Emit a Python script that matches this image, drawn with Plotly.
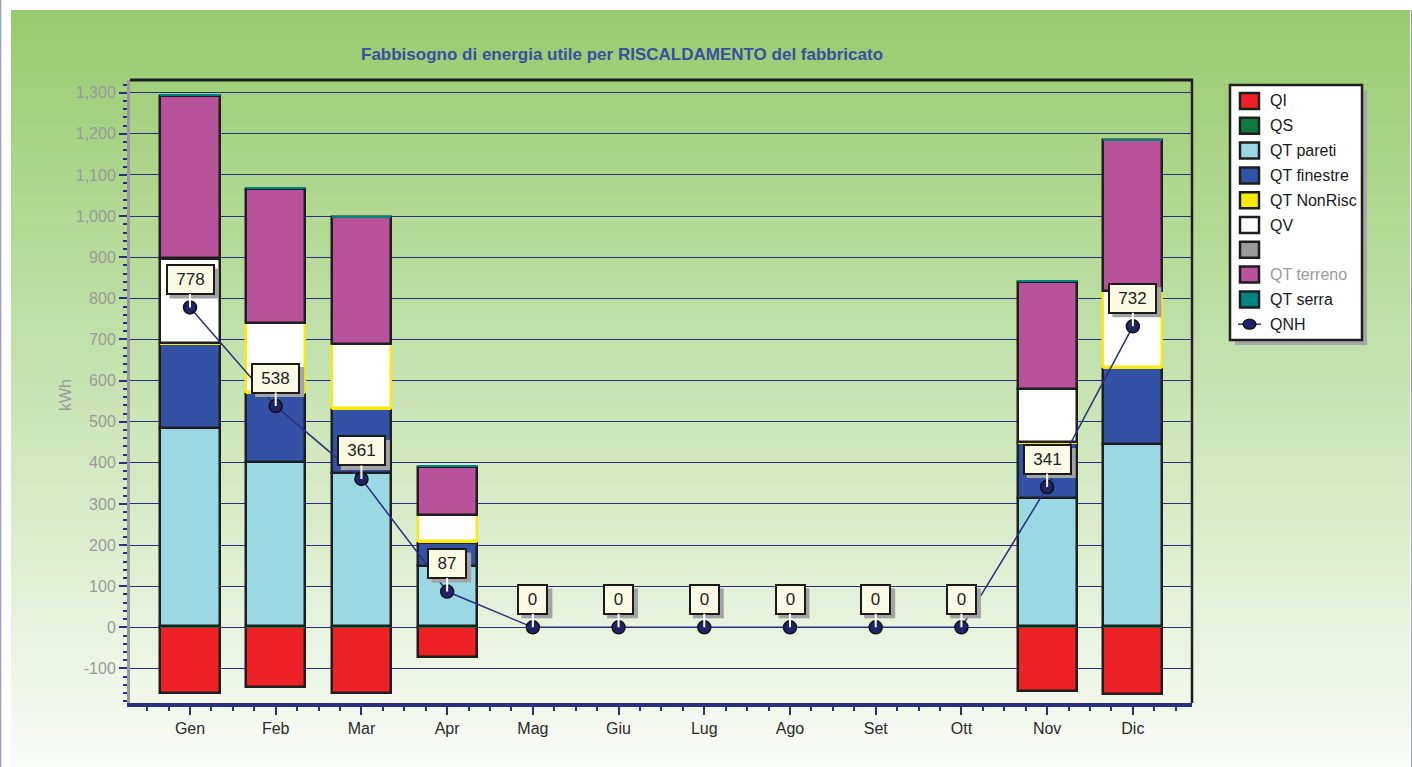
import plotly.graph_objects as go

# ---- data (kWh per month) ----
months = ["Gen", "Feb", "Mar", "Apr", "Mag", "Giu", "Lug", "Ago", "Set", "Ott", "Nov", "Dic"]
qi = [-160, -145, -160, -73, 0, 0, 0, 0, 0, 0, -155, -162]
qs = [4, 4, 4, 3, 0, 0, 0, 0, 0, 0, 4, 4]
qt_pareti = [480, 398, 371, 147, 0, 0, 0, 0, 0, 0, 311, 441]
qt_finestre = [204, 167, 155, 56, 0, 0, 0, 0, 0, 0, 133, 185]
qt_nonrisc = [4, 3, 3, 3, 0, 0, 0, 0, 0, 0, 3, 4]
qv = [204, 169, 155, 64, 0, 0, 0, 0, 0, 0, 128, 184]
q_grey = [2, 0, 0, 0, 0, 0, 0, 0, 0, 0, 0, 0]
qt_terreno = [393, 324, 309, 118, 0, 0, 0, 0, 0, 0, 261, 366]
qt_serra = [5, 5, 4, 3, 0, 0, 0, 0, 0, 0, 4, 4]
qnh = [778, 538, 361, 87, 0, 0, 0, 0, 0, 0, 341, 732]

y_ticks = list(range(-100, 1301, 100))
y_labels = [f"{v:,}" for v in y_ticks]

W, H = 1412, 767
ML, MR, MT, MB = 130, 220, 80, 64
PW, PH = W - ML - MR, H - MT - MB


def px(x):
    return (x - ML) / PW


def py(y):
    return (H - MB - y) / PH


FONT = "Liberation Sans, Arial, sans-serif"
NAVY = "#2B2F80"
EDGE = "#1E1E1E"
YEL = "#F6EC0C"

xs = list(range(len(months)))
fig = go.Figure()

stack = [
    ("QI", qi, "#EE2226", 2.5, EDGE),
    ("QS", qs, "#0E7A3E", 0, EDGE),
    ("QT pareti", qt_pareti, "#9AD8E4", 2.5, EDGE),
    ("QT finestre", qt_finestre, "#3352A5", 2.5, EDGE),
    ("QT NonRisc", qt_nonrisc, YEL, 0, EDGE),
    ("QV", qv, "#FFFFFF", 2.5,
     [EDGE, YEL, YEL, YEL, EDGE, EDGE, EDGE, EDGE, EDGE, EDGE, EDGE, YEL]),
    (" ", q_grey, "#9B9B9B", 0, EDGE),
    ("QT terreno", qt_terreno, "#B8539B", 2.5, EDGE),
    ("QT serra", qt_serra, "#008482", 0, EDGE),
]
for name, vals, color, lw, lc in stack:
    # empty months get no outline so nothing is drawn on the zero line
    widths = [lw if v != 0 else 0 for v in vals]
    fig.add_trace(go.Bar(
        x=xs, y=vals, name=name, width=0.69,
        marker=dict(color=color, line=dict(width=widths, color=lc)),
        showlegend=False,
    ))

fig.add_trace(go.Scatter(
    x=xs, y=qnh, name="QNH", mode="lines+markers",
    line=dict(color=NAVY, width=1.5),
    marker=dict(size=13, color="#1F2468", line=dict(color="#111111", width=1.5)),
    showlegend=False,
))

annotations = []
shapes = []

# background panel with vertical gradient
top_c = (151, 203, 110)
bot_c = (250, 252, 248)
y0p, y1p = 10, 767
nb = 80
for k in range(nb):
    ya = y0p + (y1p - y0p) * k / nb
    yb = y0p + (y1p - y0p) * (k + 1) / nb + 0.6
    t = (k + 0.5) / nb
    c = tuple(round(top_c[j] + (bot_c[j] - top_c[j]) * t) for j in range(3))
    shapes.append(dict(type="rect", xref="paper", yref="paper",
                       x0=px(11), x1=px(1410), y0=py(ya), y1=py(yb),
                       fillcolor="rgb(%d,%d,%d)" % c, line=dict(width=0), layer="below"))
shapes.append(dict(type="line", xref="paper", yref="paper", x0=px(0.5), x1=px(0.5),
                   y0=py(0), y1=py(767), line=dict(color="#9A9ACC", width=1.5), layer="below"))
shapes.append(dict(type="line", xref="paper", yref="paper", x0=px(1411.5), x1=px(1411.5),
                   y0=py(10), y1=py(767), line=dict(color="#9A9ACC", width=1), layer="below"))

# QNH value labels: grey drop shadow, then boxed label with a white stem
LABEL_UP = 28
for i, v in enumerate(qnh):
    txt = str(v)
    w = 10 + 9 * len(txt)
    hw = (w + 12) / 2
    hh = 15
    shapes.append(dict(type="rect", xref="x", yref="y", xsizemode="pixel", ysizemode="pixel",
                       xanchor=i, yanchor=v,
                       x0=-hw + 4, x1=hw + 4, y0=LABEL_UP - hh - 4, y1=LABEL_UP + hh - 4,
                       fillcolor="#A3A3A3", line=dict(width=0)))
    annotations.append(dict(
        x=i, y=v, xref="x", yref="y", text=txt, showarrow=True,
        arrowcolor="#FFFFFF", arrowwidth=2, arrowhead=0, ax=0, ay=-LABEL_UP, standoff=0,
        bgcolor="#FBFAE4", bordercolor="#1A1A1A", borderwidth=2, borderpad=4,
        width=w, font=dict(family=FONT, size=17, color="#222222"),
    ))

# title and axis title
annotations.append(dict(
    x=px(622), y=py(55), xref="paper", yref="paper", showarrow=False,
    text="<b>Fabbisogno di energia utile per RISCALDAMENTO del fabbricato</b>",
    font=dict(family=FONT, size=17, color="#3A4FA0"), xanchor="center", yanchor="middle",
))
annotations.append(dict(
    x=px(65), y=py(395), xref="paper", yref="paper", showarrow=False, text="kWh",
    textangle=-90, font=dict(family=FONT, size=16, color="#9A9A9A"),
    xanchor="center", yanchor="middle",
))

# frame: top and right borders of the plot area
shapes.append(dict(type="line", xref="paper", yref="paper", x0=0, x1=1.001, y0=1, y1=1,
                   line=dict(color=EDGE, width=3)))
shapes.append(dict(type="line", xref="paper", yref="paper", x0=1, x1=1, y0=0, y1=1,
                   line=dict(color=EDGE, width=2.5)))

# legend box
lx0, lx1, ly0, ly1 = 1230, 1362, 85, 340
shapes.append(dict(type="rect", xref="paper", yref="paper",
                   x0=px(lx0 + 5), x1=px(lx1 + 5), y0=py(ly0 + 5), y1=py(ly1 + 5),
                   fillcolor="#A8A8A8", line=dict(width=0)))
shapes.append(dict(type="rect", xref="paper", yref="paper",
                   x0=px(lx0), x1=px(lx1), y0=py(ly0), y1=py(ly1),
                   fillcolor="#FFFFFF", line=dict(color=EDGE, width=2.5)))

legend_items = [(n, c) for n, _, c, _, _ in stack]
legend_items[6] = ("", "#9B9B9B")
for k, (name, color) in enumerate(legend_items):
    cy = 101 + 24.8 * k
    shapes.append(dict(type="rect", xref="paper", yref="paper",
                       x0=px(1240), x1=px(1259), y0=py(cy - 8), y1=py(cy + 8),
                       fillcolor=color, line=dict(color=EDGE, width=2.5)))
    if name:
        col = "#9C9C9C" if name == "QT terreno" else "#1A1A1A"
        annotations.append(dict(x=px(1268), y=py(cy), xref="paper", yref="paper",
                                showarrow=False, text=name, xanchor="left", yanchor="middle",
                                font=dict(family=FONT, size=16, color=col)))
cy = 101 + 24.8 * 9
shapes.append(dict(type="line", xref="paper", yref="paper", x0=px(1238), x1=px(1261),
                   y0=py(cy), y1=py(cy), line=dict(color=NAVY, width=1.5)))
shapes.append(dict(type="circle", xref="paper", yref="paper", x0=px(1243), x1=px(1256),
                   y0=py(cy - 5), y1=py(cy + 5), fillcolor="#1F2468",
                   line=dict(color="#111111", width=1.2)))
annotations.append(dict(x=px(1268), y=py(cy), xref="paper", yref="paper",
                        showarrow=False, text="QNH", xanchor="left", yanchor="middle",
                        font=dict(family=FONT, size=16, color="#1A1A1A")))

fig.update_layout(
    width=W, height=H,
    margin=dict(l=ML, r=MR, t=MT, b=MB, pad=0),
    barmode="relative", bargap=0,
    paper_bgcolor="#FFFFFF", plot_bgcolor="rgba(0,0,0,0)",
    showlegend=False,
    font=dict(family=FONT),
    annotations=annotations, shapes=shapes,
    xaxis=dict(
        range=[-0.70, 11.69], tickvals=xs, ticktext=months,
        showgrid=False, zeroline=False,
        showline=True, linecolor=NAVY, linewidth=3.5,
        ticks="outside", ticklen=8, tickwidth=1.5, tickcolor=NAVY,
        tickfont=dict(family=FONT, size=16, color="#2A2A2A"),
        minor=dict(dtick=0.25, tick0=0, ticks="outside", ticklen=4, tickwidth=1.5, tickcolor=NAVY),
    ),
    yaxis=dict(
        range=[-184, 1331], tickvals=y_ticks, ticktext=y_labels,
        showgrid=True, gridcolor=NAVY, gridwidth=1.3,
        zeroline=True, zerolinecolor=NAVY, zerolinewidth=1.3,
        showline=True, linecolor="#9A9A9A", linewidth=3,
        ticks="outside", ticklen=8, tickwidth=1.5, tickcolor=NAVY,
        tickfont=dict(family=FONT, size=16, color="#9A9A9A"),
        minor=dict(dtick=20, tick0=0, ticks="outside", ticklen=4, tickwidth=1.5, tickcolor=NAVY),
    ),
)

fig.write_html("out.html")
